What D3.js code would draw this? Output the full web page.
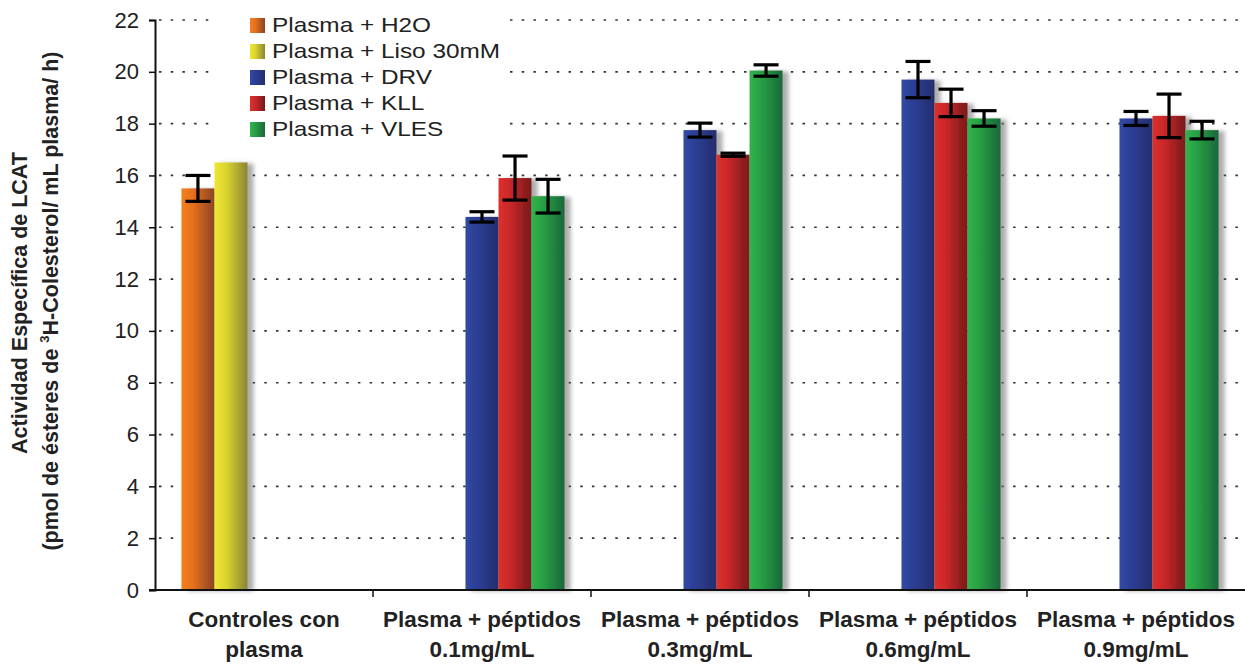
<!DOCTYPE html>
<html>
<head>
<meta charset="utf-8">
<script src="https://cdn.jsdelivr.net/npm/d3@7"></script>
<style>
  body { margin: 0; background: #fff; }
  svg { font-family: Arial, "Liberation Sans", sans-serif; }
</style>
</head>
<body>
<div id="chart"></div>
<script>
/**
 * DATA
 * */
const categories = [
  ["Controles con", "plasma"],
  ["Plasma + péptidos", "0.1mg/mL"],
  ["Plasma + péptidos", "0.3mg/mL"],
  ["Plasma + péptidos", "0.6mg/mL"],
  ["Plasma + péptidos", "0.9mg/mL"],
];
const seriesNames = ["Plasma + H2O", "Plasma + Liso 30mM", "Plasma + DRV", "Plasma + KLL", "Plasma + VLES"];

// mean values per series, one per category (null = no bar)
const h2oValues  = [15.5, null, null, null, null];
const lisoValues = [16.5, null, null, null, null];
const drvValues  = [null, 14.4, 17.75, 19.7, 18.2];
const kllValues  = [null, 15.9, 16.8, 18.8, 18.3];
const vlesValues = [null, 15.2, 20.05, 18.2, 17.75];

// error (+/-) per series
const h2oErr  = [0.5, null, null, null, null];
const lisoErr = [null, null, null, null, null];
const drvErr  = [null, 0.2, 0.27, 0.7, 0.27];
const kllErr  = [null, 0.85, 0.06, 0.53, 0.84];
const vlesErr = [null, 0.65, 0.22, 0.3, 0.34];

const yTicks = [0, 2, 4, 6, 8, 10, 12, 14, 16, 18, 20, 22];

// gradient stops: light left -> dark right
const seriesColors = [
  ["#f5801f", "#e6701f", "#8a4422"],
  ["#efe633", "#dcd52f", "#8a8532"],
  ["#3249a3", "#2b3f96", "#262d6c"],
  ["#dc302b", "#c9282a", "#781919"],
  ["#31b34c", "#28a044", "#1a673a"],
];

/**
 * CONSTANTS
 * */
const width = 1245, height = 664;
const margin = { top: 20, right: 0, bottom: 74, left: 155 };

const allValues = [h2oValues, lisoValues, drvValues, kllValues, vlesValues];
const allErrors = [h2oErr, lisoErr, drvErr, kllErr, vlesErr];

const svg = d3.select("#chart").append("svg")
  .attr("width", width)
  .attr("height", height);

const defs = svg.append("defs");
seriesColors.forEach((c, i) => {
  const g = defs.append("linearGradient").attr("id", "grad" + i)
    .attr("x1", "0%").attr("x2", "100%").attr("y1", "0%").attr("y2", "0%");
  g.append("stop").attr("offset", "0%").attr("stop-color", c[0]);
  g.append("stop").attr("offset", "35%").attr("stop-color", c[1]);
  g.append("stop").attr("offset", "100%").attr("stop-color", c[2]);
});
const shadow = defs.append("filter").attr("id", "shadow")
  .attr("x", "-20%").attr("y", "-5%").attr("width", "160%").attr("height", "110%");
shadow.append("feDropShadow")
  .attr("dx", 6).attr("dy", 1).attr("stdDeviation", 2)
  .attr("flood-color", "#777").attr("flood-opacity", 0.6);

const x0 = d3.scaleBand()
  .domain(d3.range(categories.length))
  .range([margin.left, width - margin.right])
  .padding(0);

const x1 = d3.scaleBand()
  .domain(d3.range(seriesNames.length))
  .range([0, x0.bandwidth()])
  .paddingInner(0)
  .paddingOuter(0.8);

const y = d3.scaleLinear()
  .domain([0, 22])
  .range([height - margin.bottom, margin.top]);

// gridlines
svg.append("g")
  .selectAll("line")
  .data(yTicks.filter(d => d > 0))
  .join("line")
  .attr("x1", margin.left + 4)
  .attr("x2", width)
  .attr("y1", d => y(d))
  .attr("y2", d => y(d))
  .attr("stroke", "#333")
  .attr("stroke-width", 1.7)
  .attr("stroke-dasharray", "2.5,9.2");

// bars
const bars = [];
allValues.forEach((vals, s) => {
  vals.forEach((v, c) => {
    if (v != null) bars.push({ s, c, v, e: allErrors[s][c] });
  });
});

svg.append("g")
  .selectAll("rect")
  .data(bars)
  .join("rect")
  .attr("x", d => x0(d.c) + x1(d.s))
  .attr("y", d => y(d.v))
  .attr("width", x1.bandwidth())
  .attr("height", d => y(0) - y(d.v))
  .attr("fill", d => `url(#grad${d.s})`)
  .attr("filter", "url(#shadow)");

// error bars
const errG = svg.append("g")
  .attr("stroke", "#000")
  .attr("stroke-width", 3.2);
const errData = bars.filter(d => d.e != null);
const cx = d => x0(d.c) + x1(d.s) + x1.bandwidth() / 2;
const capW = 12.5;
errG.selectAll("line.v").data(errData).join("line").attr("class", "v")
  .attr("x1", cx).attr("x2", cx)
  .attr("y1", d => y(d.v + d.e)).attr("y2", d => y(d.v - d.e));
errG.selectAll("line.t").data(errData).join("line").attr("class", "t")
  .attr("x1", d => cx(d) - capW).attr("x2", d => cx(d) + capW)
  .attr("y1", d => y(d.v + d.e)).attr("y2", d => y(d.v + d.e));
errG.selectAll("line.b").data(errData).join("line").attr("class", "b")
  .attr("x1", d => cx(d) - capW).attr("x2", d => cx(d) + capW)
  .attr("y1", d => y(d.v - d.e)).attr("y2", d => y(d.v - d.e));

// y axis
const yAxis = svg.append("g")
  .attr("transform", `translate(${margin.left},0)`)
  .call(d3.axisLeft(y).tickValues(yTicks).tickSize(6).tickPadding(10));
yAxis.select(".domain").attr("stroke", "#111").attr("stroke-width", 2);
yAxis.selectAll(".tick line").attr("stroke", "#111").attr("stroke-width", 1.5);
yAxis.selectAll(".tick text")
  .attr("font-size", 22)
  .attr("fill", "#222")
  .attr("font-family", "Arial, 'Liberation Sans', sans-serif");

// x axis: baseline + boundary ticks
const xg = svg.append("g");
xg.append("line")
  .attr("x1", margin.left - 6).attr("x2", width)
  .attr("y1", y(0)).attr("y2", y(0))
  .attr("stroke", "#111").attr("stroke-width", 2);
xg.selectAll("line.tk")
  .data(d3.range(1, categories.length))
  .join("line").attr("class", "tk")
  .attr("x1", d => x0(d)).attr("x2", d => x0(d))
  .attr("y1", y(0)).attr("y2", y(0) + 7)
  .attr("stroke", "#111").attr("stroke-width", 1.5);

const labels = xg.selectAll("text")
  .data(categories)
  .join("text")
  .attr("x", (d, i) => x0(i) + x0.bandwidth() / 2)
  .attr("y", 627)
  .attr("text-anchor", "middle")
  .attr("font-size", 22.5)
  .attr("font-weight", "bold")
  .attr("fill", "#222");
labels.selectAll("tspan")
  .data(d => d)
  .join("tspan")
  .attr("x", function () { return this.parentNode.getAttribute("x"); })
  .attr("dy", (d, i) => i === 0 ? 0 : 30)
  .text(d => d);

// y title
const title = svg.append("g")
  .attr("font-weight", "bold")
  .attr("font-size", 21.5)
  .attr("fill", "#222")
  .attr("text-anchor", "middle");
title.append("text")
  .attr("transform", "translate(27,303) rotate(-90)")
  .text("Actividad Específica de LCAT");
const t2 = title.append("text")
  .attr("transform", "translate(58,301) rotate(-90)");
t2.append("tspan").text("(pmol de ésteres de ");
t2.append("tspan").attr("font-size", 13).attr("dy", -9).text("3");
t2.append("tspan").attr("dy", 9).text("H-Colesterol/ mL plasma/ h)");

// legend
const legend = svg.append("g");
legend.append("rect")
  .attr("x", 216).attr("y", 8).attr("width", 290).attr("height", 136)
  .attr("fill", "#fff");
const items = legend.selectAll("g.item")
  .data(seriesNames)
  .join("g").attr("class", "item")
  .attr("transform", (d, i) => `translate(250,${18 + i * 26})`);
items.append("rect")
  .attr("width", 15).attr("height", 15)
  .attr("fill", (d, i) => `url(#grad${i})`);
items.append("text")
  .attr("transform", "translate(22,14) scale(1.16,1)")
  .attr("font-size", 21)
  .attr("fill", "#222")
  .text(d => d);
</script>
</body>
</html>
